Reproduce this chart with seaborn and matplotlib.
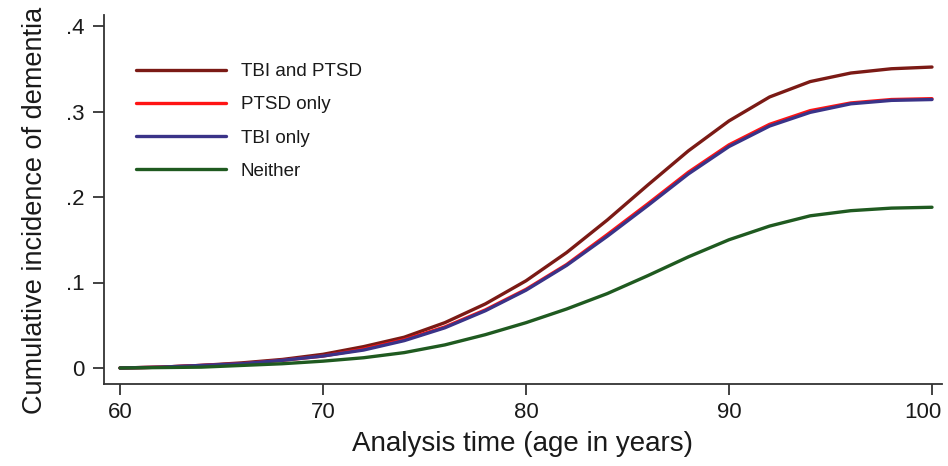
import matplotlib
matplotlib.use("Agg")
import matplotlib.pyplot as plt
import matplotlib.transforms as mtransforms
import seaborn as sns
import pandas as pd

ages = [60, 62, 64, 66, 68, 70, 72, 74, 76, 78, 80, 82, 84, 86, 88, 90, 92, 94, 96, 98, 100]
tbi_and_ptsd = [0.000, 0.001, 0.003, 0.006, 0.010, 0.016, 0.025, 0.036, 0.053, 0.075, 0.102,
                0.135, 0.173, 0.214, 0.254, 0.289, 0.317, 0.335, 0.345, 0.350, 0.352]
ptsd_only = [0.000, 0.001, 0.003, 0.005, 0.009, 0.014, 0.022, 0.033, 0.048, 0.068, 0.092,
             0.121, 0.156, 0.192, 0.229, 0.261, 0.285, 0.301, 0.310, 0.314, 0.315]
tbi_only = [0.000, 0.001, 0.003, 0.005, 0.009, 0.014, 0.021, 0.032, 0.047, 0.067, 0.091,
            0.120, 0.154, 0.190, 0.227, 0.259, 0.283, 0.299, 0.309, 0.313, 0.314]
neither = [0.000, 0.0005, 0.001, 0.003, 0.005, 0.008, 0.012, 0.018, 0.027, 0.039, 0.053,
           0.069, 0.087, 0.108, 0.130, 0.150, 0.166, 0.178, 0.184, 0.187, 0.188]

groups = ["TBI and PTSD", "PTSD only", "TBI only", "Neither"]
colors = ["#7b1a15", "#ff1414", "#3a3388", "#1f5a20"]
series = [tbi_and_ptsd, ptsd_only, tbi_only, neither]
xtick_vals = [60, 70, 80, 90, 100]
xtick_labels = ["60", "70", "80", "90", "100"]
ytick_vals = [0, 0.1, 0.2, 0.3, 0.4]
ytick_labels = ["0", ".1", ".2", ".3", ".4"]

rows = []
for g, vals in zip(groups, series):
    for a, v in zip(ages, vals):
        rows.append({"age": a, "inc": v, "group": g})
df = pd.DataFrame(rows)

sns.set_style("white")
plt.rcParams["font.family"] = ["Liberation Sans", "DejaVu Sans"]

fig = plt.figure(figsize=(9.48, 4.66), dpi=100)
ax = fig.add_axes([104 / 948, 1 - 384 / 466, (942 - 104) / 948, (384 - 15) / 466])

sns.lineplot(data=df, x="age", y="inc", hue="group", hue_order=groups,
             palette=dict(zip(groups, colors)), linewidth=2.4, ax=ax, legend=True)

x0 = 60 - 16 / 20.3
x1 = 60 + 822 / 20.3
ax.set_xlim(x0, x1)
ax.set_ylim(-16 / 855, 353 / 855)

ax.set_xticks(xtick_vals)
ax.set_xticklabels(xtick_labels)
ax.set_yticks(ytick_vals)
ax.set_yticklabels(ytick_labels)

for s in ["top", "right"]:
    ax.spines[s].set_visible(False)
for s in ["left", "bottom"]:
    ax.spines[s].set_color("#333333")
    ax.spines[s].set_linewidth(1.3)

ax.tick_params(axis="both", which="major", length=8, width=1.3, color="#333333",
               labelsize=16, labelcolor="#1a1a1a", direction="out",
               bottom=True, left=True)
ax.tick_params(axis="y", pad=6)
ax.tick_params(axis="x", pad=5)

# nudge the last x tick label so it stays inside the figure
last = ax.get_xticklabels()[-1]
last.set_transform(last.get_transform() +
                   mtransforms.ScaledTranslation(-9 / 100, 0, fig.dpi_scale_trans))

ax.set_xlabel("Analysis time (age in years)", fontsize=20, color="#1a1a1a", labelpad=6)
ax.set_ylabel("Cumulative incidence of dementia", fontsize=19.5, color="#1a1a1a", labelpad=4)
ax.yaxis.set_label_coords(-0.067, (384 - 210) / 369)

handles, labels = ax.get_legend_handles_labels()
leg = ax.legend(handles, labels, loc="upper left", bbox_to_anchor=(0.029, 0.89),
                frameon=False, fontsize=13.5, handlelength=4.8, handletextpad=0.8,
                labelspacing=0.86, borderaxespad=0)
for t in leg.get_texts():
    t.set_color("#1a1a1a")
for l in leg.get_lines():
    l.set_linewidth(2.4)

fig.savefig("out.png", dpi=100)
